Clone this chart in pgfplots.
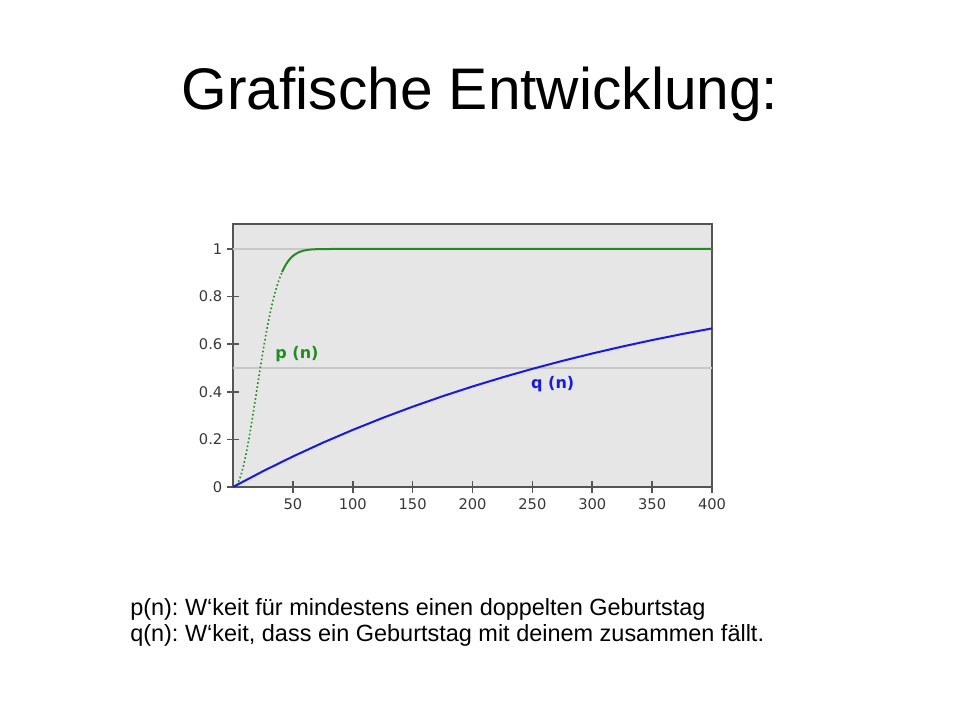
\documentclass[border=0pt]{standalone}
\usepackage{fontspec}
\setmainfont{Liberation Sans}
\newfontfamily\verd{DejaVu Sans}
\usepackage{pgfplots}
\pgfplotsset{compat=1.18}

\definecolor{pgreen}{RGB}{34,139,34}
\definecolor{qblue}{RGB}{25,25,230}
\definecolor{bggray}{RGB}{230,230,230}
\definecolor{framegray}{RGB}{85,85,85}
\definecolor{linegray}{RGB}{200,200,200}
\definecolor{ticktext}{RGB}{55,55,55}

\begin{document}
\frenchspacing
\begin{tikzpicture}
\path[use as bounding box] (0,0) rectangle (720pt,540pt);

% title
\node[anchor=base, font=\fontsize{44}{50}\selectfont] at (360pt,457.5pt) {Grafische Entwicklung:};

\begin{axis}[
  at={(174.75pt,174.75pt)}, anchor=south west,
  scale only axis,
  width=359.25pt, height=197.25pt,
  xmin=0, xmax=400, ymin=0, ymax=1.105,
  axis background/.style={fill=bggray},
  axis line style={framegray, line width=1.4pt},
  xtick={50,100,...,400},
  ytick={0,0.2,0.4,0.6,0.8,1},
  yticklabels={0,0.2,0.4,0.6,0.8,1},
  xtick pos=bottom, ytick pos=left,
  tick align=center,
  major tick length=9pt,
  tick style={framegray, line width=1.2pt},
  /pgf/number format/assume math mode=true,
  ticklabel style={font=\verd\fontsize{11}{13}\selectfont, text=ticktext},
  xticklabel style={yshift=-1pt},
  extra y ticks={0.5,1},
  extra y tick labels={},
  extra y tick style={grid=major, major tick length=0pt,
    major grid style={linegray, line width=1pt}},
  clip=false,
]
% p(n), dotted part
\addplot[pgreen, line width=1.2pt, dash pattern=on 1.2pt off 1.8pt] coordinates {
(0,0)(1,0)(2,0.0027)(3,0.0082)(4,0.0164)(5,0.0271)(6,0.0405)(7,0.0562)(8,0.0743)(9,0.0946)
(10,0.1169)(11,0.1411)(12,0.1670)(13,0.1944)(14,0.2231)(15,0.2529)(16,0.2836)(17,0.3150)
(18,0.3469)(19,0.3791)(20,0.4114)(21,0.4437)(22,0.4757)(23,0.5073)(24,0.5383)(25,0.5687)
(26,0.5982)(27,0.6269)(28,0.6545)(29,0.6810)(30,0.7063)(31,0.7305)(32,0.7533)(33,0.7750)
(34,0.7953)(35,0.8144)(36,0.8322)(37,0.8487)(38,0.8641)(39,0.8782)(40,0.8912)(41,0.9032)
};
% p(n), solid part
\addplot[pgreen, line width=1.5pt] coordinates {
(41,0.9032)(42,0.9140)(43,0.9239)(44,0.9329)(45,0.9410)(46,0.9483)(47,0.9548)(48,0.9606)
(49,0.9658)(50,0.9704)(52,0.9780)(55,0.9863)(58,0.9917)(60,0.9941)(63,0.9967)(65,0.9977)
(70,0.9992)(75,0.9997)(80,0.9999)(90,1)(400,1)
};
% q(n)
\addplot[qblue, line width=1.5pt] coordinates {
(0,0)(25,0.0663)(50,0.1282)(75,0.1860)(100,0.2399)(125,0.2903)(150,0.3373)(175,0.3813)
(200,0.4223)(225,0.4606)(250,0.4964)(275,0.5297)(300,0.5609)(325,0.5900)(350,0.6172)
(375,0.6426)(400,0.6663)
};
\node[pgreen, font=\verd\bfseries\fontsize{12}{14}\selectfont] at (axis cs:53.4,0.559) {p (n)};
\node[qblue, font=\verd\bfseries\fontsize{12}{14}\selectfont] at (axis cs:267,0.433) {q (n)};
\end{axis}

% explanation
\node[anchor=base west, font=\fontsize{17.6}{21}\selectfont, inner sep=0pt] at (97.5pt,78pt)
  {p(n): W‘keit für mindestens einen doppelten Geburtstag};
\node[anchor=base west, font=\fontsize{17.6}{21}\selectfont, inner sep=0pt] at (97.5pt,58.5pt)
  {q(n): W‘keit, dass ein Geburtstag mit deinem zusammen fällt.};
\end{tikzpicture}
\end{document}
